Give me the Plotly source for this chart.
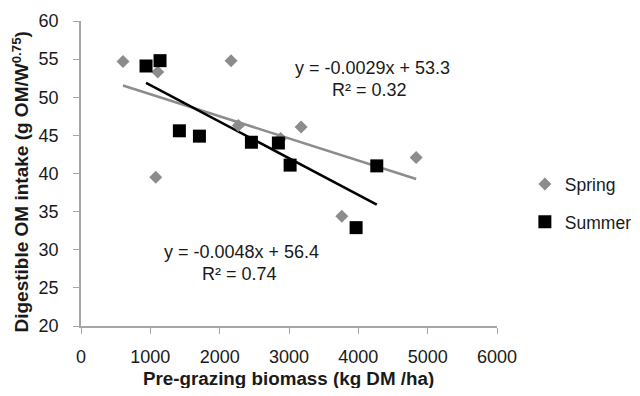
import plotly.graph_objects as go
import numpy as np

# data
spring_x = [606, 1107, 2164, 1078, 2270, 2880, 3175, 4834, 3762]
spring_y = [54.7, 53.3, 54.8, 39.5, 46.3, 44.6, 46.1, 42.1, 34.4]
summer_x = [938, 1140, 1419, 1708, 2458, 2847, 3016, 4266, 3968]
summer_y = [54.1, 54.8, 45.6, 44.9, 44.1, 44.0, 41.1, 41.0, 32.9]

# linear trendlines as printed on the chart
spring_fit = (-0.0029, 53.3)
summer_fit = (-0.0048, 56.4)
spring_eq = ["y = -0.0029x + 53.3", "R² = 0.32"]
summer_eq = ["y = -0.0048x + 56.4", "R² = 0.74"]

x_ticks = [0, 1000, 2000, 3000, 4000, 5000, 6000]
y_ticks = [20, 25, 30, 35, 40, 45, 50, 55, 60]

font = "'Liberation Sans', Arial, sans-serif"
gray = "#8c8c8c"
axis_col = "#a6a6a6"
text_col = "#1a1a1a"


def trend(xs, fit):
    xr = np.array([min(xs), max(xs)])
    return xr, fit[0] * xr + fit[1]


fig = go.Figure()

sx, sy = trend(spring_x, spring_fit)
fig.add_trace(go.Scatter(x=sx, y=sy, mode="lines", showlegend=False,
                         line=dict(color=gray, width=2.5)))
ux, uy = trend(summer_x, summer_fit)
fig.add_trace(go.Scatter(x=ux, y=uy, mode="lines", showlegend=False,
                         line=dict(color="black", width=2.5)))

fig.add_trace(go.Scatter(
    x=spring_x, y=spring_y, mode="markers", name="Spring", legendgroup="a",
    marker=dict(symbol="diamond", size=10, color=gray),
))
fig.add_trace(go.Scatter(
    x=summer_x, y=summer_y, mode="markers", name="Summer", legendgroup="b",
    marker=dict(symbol="square", size=13, color="black"),
))

ann_font = dict(size=18, color=text_col, family=font)
fig.add_annotation(x=4205, y=53.8, text=spring_eq[0], showarrow=False, font=ann_font)
fig.add_annotation(x=4160, y=51.0, text=spring_eq[1], showarrow=False, font=ann_font)
fig.add_annotation(x=2322, y=29.7, text=summer_eq[0], showarrow=False, font=ann_font)
fig.add_annotation(x=2280, y=26.8, text=summer_eq[1], showarrow=False, font=ann_font)

# axis titles placed as annotations so they sit where the original has them
fig.add_annotation(xref="paper", yref="paper", x=0.4976, y=0, yshift=-52,
                   xanchor="center", yanchor="middle", showarrow=False,
                   text="<b>Pre-grazing biomass (kg DM /ha)</b>",
                   font=dict(size=18.8, color=text_col, family=font))
fig.add_annotation(xref="paper", yref="paper", x=0, y=0.4705, xshift=-60,
                   xanchor="center", yanchor="middle", showarrow=False, textangle=-90,
                   text="<b>Digestible OM intake (g OM/W<sup>0.75</sup>)</b>",
                   font=dict(size=19, color=text_col, family=font))

# page has an 8px body margin, so the figure is sized to fit the window exactly
fig.update_layout(
    width=624,
    height=380,
    margin=dict(l=73, r=135, t=13, b=62, autoexpand=False),
    plot_bgcolor="white",
    paper_bgcolor="white",
    font=dict(family=font, size=18, color=text_col),
    xaxis=dict(
        range=[0, 6000],
        tickvals=x_ticks,
        showgrid=False,
        zeroline=False,
        showline=True,
        linecolor=axis_col,
        linewidth=1.5,
        ticks="outside",
        ticklen=6,
        tickcolor=axis_col,
        ticklabelstandoff=8,
        automargin=False,
    ),
    yaxis=dict(
        range=[20, 60],
        tickvals=y_ticks,
        showgrid=False,
        zeroline=False,
        showline=True,
        linecolor=axis_col,
        linewidth=1.5,
        ticks="outside",
        ticklen=6,
        tickcolor=axis_col,
        ticklabelstandoff=11,
        automargin=False,
    ),
    legend=dict(
        x=1.067, y=0.403, xanchor="left", yanchor="middle",
        font=dict(size=17.5), tracegroupgap=12, bgcolor="rgba(0,0,0,0)",
    ),
)

fig.write_html("out.html")
